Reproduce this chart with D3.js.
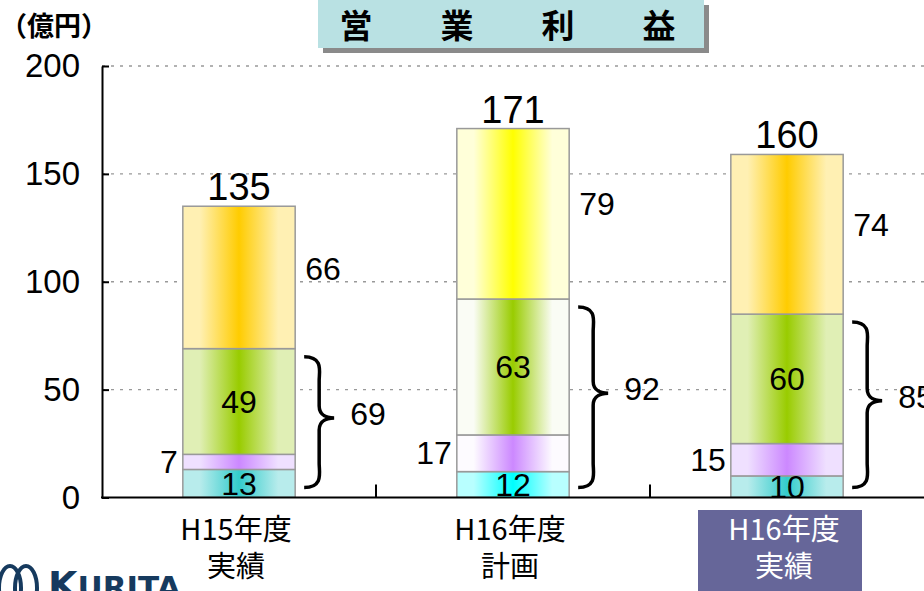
<!DOCTYPE html>
<head>
  <meta charset="utf-8">
  <script src="https://d3js.org/d3.v7.min.js"></script>
  <style>
    body { margin: 0; background: #fff; }
    text { font-family: "Liberation Sans", Arial, sans-serif; }
    .jp { font-family: "Noto Sans CJK JP", sans-serif; }
  </style>
</head>

<body>
  <script>
    var width = 924, height = 591;

    // data
    var categories = ["H15年度\n実績", "H16年度\n計画", "H16年度\n実績"];
    var seriesA = [13, 12, 10];   // bottom (cyan)
    var seriesB = [7, 17, 15];    // purple
    var seriesC = [49, 63, 60];   // green
    var seriesD = [66, 79, 74];   // top (orange / yellow)
    var totals = [135, 171, 160];
    var subtotals = [69, 92, 85];
    var yTicks = [0, 50, 100, 150, 200];

    // colours: [light, dark] per series per category
    var palettes = [
      [["#b8ecec", "#33cccc"], ["#b8ffff", "#00ffff"], ["#b8ecec", "#33cccc"]],
      [["#efe0ff", "#cc88ff"], ["#fdfbff", "#cc88ff"], ["#efe0ff", "#cc88ff"]],
      [["#e0efb5", "#99cc00"], ["#fafcf5", "#99cc00"], ["#e0efb5", "#99cc00"]],
      [["#fff0b3", "#ffcc00"], ["#ffffd9", "#ffff00"], ["#fff0b3", "#ffcc00"]]
    ];

    var plotLeft = 102, plotBottom = 497.5, plotTop = 66;

    var svg = d3.select("body").append("svg")
      .attr("width", width)
      .attr("height", height);

    var x = d3.scaleBand().domain(categories).range([plotLeft, width]);
    var y = d3.scaleLinear().domain([0, 200]).range([plotBottom, plotTop]);
    var barW = x.bandwidth() * 0.41;

    var defs = svg.append("defs");
    palettes.forEach(function (ser, s) {
      ser.forEach(function (c, i) {
        var g = defs.append("linearGradient")
          .attr("id", "g" + s + "_" + i)
          .attr("x1", "0%").attr("x2", "100%").attr("y1", "0%").attr("y2", "0%");
        [[0, c[0]], [0.15, c[0]], [0.5, c[1]], [0.85, c[0]], [1, c[0]]].forEach(function (st) {
          g.append("stop").attr("offset", st[0]).attr("stop-color", st[1]);
        });
      });
    });
    defs.append("clipPath").attr("id", "plot")
      .append("rect").attr("x", plotLeft).attr("y", 0).attr("width", width - plotLeft).attr("height", plotBottom);

    // title box
    svg.append("rect").attr("x", 323).attr("y", 5).attr("width", 386).attr("height", 48).attr("fill", "#8a8a8a");
    svg.append("rect").attr("x", 318).attr("y", 0).attr("width", 386).attr("height", 48).attr("fill", "#b9e1e3");
    ["営", "業", "利", "益"].forEach(function (ch, i) {
      svg.append("text").attr("class", "jp")
        .attr("x", 356 + i * 101).attr("y", 38)
        .attr("text-anchor", "middle")
        .style("font-size", "33px").style("font-weight", "bold")
        .text(ch);
    });

    svg.append("text").attr("class", "jp")
      .attr("x", 0).attr("y", 36)
      .style("font-size", "27px").style("font-weight", "bold")
      .text("（億円）");

    // grid
    svg.append("g").selectAll("line")
      .data(yTicks.filter(function (d) { return d > 0; }))
      .enter().append("line")
      .attr("x1", plotLeft).attr("x2", width)
      .attr("y1", function (d) { return y(d); }).attr("y2", function (d) { return y(d); })
      .attr("stroke", "#999").attr("stroke-width", 1.3)
      .attr("stroke-dasharray", "3 6");

    // stacked bars
    var stackData = categories.map(function (c, i) {
      return { cat: c, a: seriesA[i], b: seriesB[i], c: seriesC[i], d: seriesD[i] };
    });
    var stack = d3.stack().keys(["a", "b", "c", "d"])(stackData);

    var bars = svg.append("g").attr("clip-path", "url(#plot)");
    stack.forEach(function (layer, s) {
      bars.append("g").selectAll("rect")
        .data(layer)
        .enter().append("rect")
        .attr("x", function (d, i) { return x(categories[i]) + (x.bandwidth() - barW) / 2; })
        .attr("width", barW)
        .attr("y", function (d) { return y(d[1]); })
        .attr("height", function (d) { return y(d[0]) - y(d[1]); })
        .attr("fill", function (d, i) { return "url(#g" + s + "_" + i + ")"; })
        .attr("stroke", "#999").attr("stroke-width", 1.5);
    });

    var cx = function (i) { return x(categories[i]) + x.bandwidth() / 2; };

    // labels inside: cyan & green
    var inner = bars.append("g").style("font-size", "32px").attr("text-anchor", "middle");
    [0, 2].forEach(function (s) {
      inner.selectAll(null).data(stack[s]).enter().append("text")
        .attr("x", function (d, i) { return cx(i); })
        .attr("y", function (d) { return y((d[0] + d[1]) / 2); })
        .attr("dy", "0.35em")
        .text(function (d) { return d.data[stack[s].key]; });
    });

    // purple labels left of bar
    svg.append("g").selectAll("text").data(stack[1]).enter().append("text")
      .attr("x", function (d, i) { return cx(i) - barW / 2 - 5; })
      .attr("y", function (d) { return y((d[0] + d[1]) / 2); })
      .attr("dy", "0.35em").attr("text-anchor", "end")
      .style("font-size", "32px")
      .text(function (d) { return d.data.b; });

    // top segment labels right of bar
    svg.append("g").selectAll("text").data(stack[3]).enter().append("text")
      .attr("x", function (d, i) { return cx(i) + barW / 2 + 10; })
      .attr("y", function (d) { return y(d[0] + (d[1] - d[0]) * 0.56); })
      .attr("dy", "0.35em")
      .style("font-size", "32px")
      .text(function (d) { return d.data.d; });

    // totals
    svg.append("g").selectAll("text").data(stack[3]).enter().append("text")
      .attr("x", function (d, i) { return cx(i); })
      .attr("y", function (d) { return y(d[1]) - 6; })
      .attr("text-anchor", "middle")
      .style("font-size", "38px")
      .text(function (d, i) { return totals[i]; });

    // braces
    function brace(x0, y0, y1, w) {
      var m = (y0 + y1) / 2 - 4, h = w / 2;
      return "M" + x0 + "," + y0 +
        "C" + (x0 + h * 1.3) + "," + y0 + " " + (x0 + h) + "," + (y0 + h) + " " + (x0 + h) + "," + (y0 + h * 1.6) +
        "L" + (x0 + h) + "," + (m - h * 0.8) +
        "C" + (x0 + h) + "," + (m - 2) + " " + (x0 + w * 0.8) + "," + m + " " + (x0 + w) + "," + m +
        "C" + (x0 + w * 0.8) + "," + m + " " + (x0 + h) + "," + (m + 2) + " " + (x0 + h) + "," + (m + h * 0.8) +
        "L" + (x0 + h) + "," + (y1 - h * 1.6) +
        "C" + (x0 + h) + "," + (y1 - h) + " " + (x0 + h * 1.3) + "," + y1 + " " + x0 + "," + y1;
    }
    var br = svg.append("g");
    subtotals.forEach(function (v, i) {
      var bx = cx(i) + barW / 2 + 9;
      var y0 = y(v) + 8, y1 = y(0) - 10;
      br.append("path")
        .attr("d", brace(bx, y0, y1, 30))
        .attr("fill", "none").attr("stroke", "#000").attr("stroke-width", 3.5);
      br.append("text")
        .attr("x", bx + 46).attr("y", (y0 + y1) / 2 - 8)
        .attr("dy", "0.35em")
        .style("font-size", "32px")
        .text(v);
    });

    // y axis
    var yAxis = svg.append("g")
      .attr("transform", "translate(" + plotLeft + ",0)")
      .call(d3.axisLeft(y).tickValues(yTicks).tickSizeInner(-7).tickSizeOuter(0).tickPadding(22));
    yAxis.select(".domain").attr("stroke", "#000").attr("stroke-width", 2);
    yAxis.selectAll(".tick line").attr("stroke", "#000").attr("stroke-width", 2);
    yAxis.selectAll(".tick text")
      .style("font-family", "'Liberation Sans', Arial, sans-serif")
      .style("font-size", "33px").attr("fill", "#000");

    // x axis
    svg.append("line").attr("x1", plotLeft - 1).attr("x2", width)
      .attr("y1", plotBottom).attr("y2", plotBottom)
      .attr("stroke", "#000").attr("stroke-width", 2);
    svg.append("g").selectAll("line")
      .data(categories.slice(1))
      .enter().append("line")
      .attr("x1", function (d) { return x(d); }).attr("x2", function (d) { return x(d); })
      .attr("y1", plotBottom).attr("y2", plotBottom - 13)
      .attr("stroke", "#000").attr("stroke-width", 2);

    // highlight box for last category
    var lastC = cx(2);
    svg.append("rect").attr("x", lastC - 89).attr("y", 510)
      .attr("width", 164).attr("height", 90).attr("fill", "#666699");

    categories.forEach(function (c, i) {
      var t = svg.append("text").attr("class", "jp")
        .attr("text-anchor", "middle")
        .attr("fill", i === 2 ? "#fff" : "#000")
        .style("font-size", "29px");
      c.split("\n").forEach(function (line, k) {
        t.append("tspan").attr("x", cx(i) - 3).attr("y", 540 + k * 37).text(line);
      });
    });

    // logo
    var logo = svg.append("g").attr("fill", "none").attr("stroke", "#163a5e").attr("stroke-width", 4);
    logo.append("ellipse").attr("cx", 10).attr("cy", 588).attr("rx", 11).attr("ry", 22);
    logo.append("ellipse").attr("cx", 26).attr("cy", 588).attr("rx", 11).attr("ry", 22);
    svg.append("text").attr("x", 48).attr("y", 598)
      .attr("fill", "#163a5e").style("font-weight", "bold")
      .style("font-family", "'DejaVu Sans', sans-serif")
      .html('<tspan style="font-size:38px">K</tspan><tspan style="font-size:31px">URITA</tspan>');
  </script>
</body>
